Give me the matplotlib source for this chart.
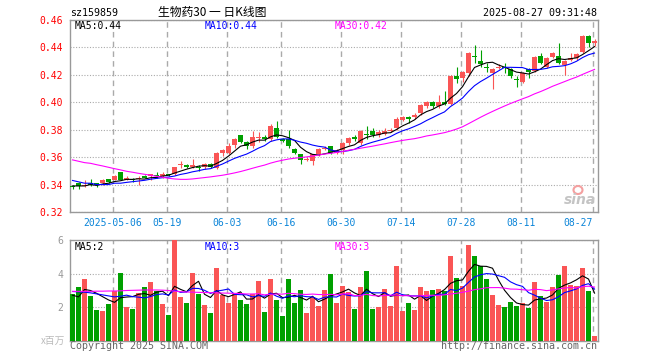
import numpy as np
import pandas as pd
import matplotlib
matplotlib.use('Agg')
import matplotlib.pyplot as plt
from matplotlib.patches import Ellipse

#=====================================
# sz159859 daily K-line
#=====================================

opens = [0.339, 0.341, 0.339, 0.341, 0.341, 0.341, 0.344, 0.343, 0.349, 0.343,
         0.344, 0.344, 0.346, 0.346, 0.347, 0.346, 0.348, 0.348, 0.354, 0.354,
         0.353, 0.353, 0.353, 0.355, 0.352, 0.363, 0.363, 0.369, 0.376, 0.371,
         0.368, 0.374, 0.375, 0.373, 0.381, 0.373, 0.373, 0.366, 0.362, 0.358,
         0.357, 0.362, 0.366, 0.368, 0.363, 0.365, 0.370, 0.375, 0.370, 0.377,
         0.379, 0.376, 0.377, 0.379, 0.381, 0.387, 0.389, 0.389, 0.392, 0.397,
         0.400, 0.397, 0.400, 0.399, 0.419, 0.418, 0.421, 0.434, 0.430, 0.426,
         0.421, 0.425, 0.426, 0.424, 0.417, 0.415, 0.424, 0.423, 0.434, 0.426,
         0.433, 0.434, 0.427, 0.431, 0.432, 0.437, 0.448, 0.443]
closes = [0.338, 0.339, 0.340, 0.340, 0.340, 0.343, 0.342, 0.346, 0.343, 0.345,
          0.343, 0.344, 0.345, 0.348, 0.346, 0.348, 0.347, 0.353, 0.355, 0.353,
          0.354, 0.352, 0.355, 0.353, 0.363, 0.365, 0.368, 0.373, 0.371, 0.368,
          0.375, 0.375, 0.373, 0.383, 0.375, 0.372, 0.368, 0.363, 0.358, 0.359,
          0.362, 0.366, 0.367, 0.363, 0.365, 0.370, 0.374, 0.373, 0.379, 0.376,
          0.376, 0.378, 0.379, 0.380, 0.388, 0.389, 0.388, 0.391, 0.398, 0.400,
          0.397, 0.400, 0.399, 0.419, 0.417, 0.422, 0.436, 0.433, 0.428, 0.425,
          0.424, 0.426, 0.425, 0.419, 0.416, 0.421, 0.422, 0.433, 0.429, 0.432,
          0.436, 0.429, 0.430, 0.432, 0.435, 0.448, 0.443, 0.445]
highs = [0.340, 0.342, 0.343, 0.344, 0.341, 0.344, 0.344, 0.347, 0.349, 0.346,
         0.345, 0.346, 0.347, 0.348, 0.349, 0.349, 0.348, 0.353, 0.357, 0.355,
         0.359, 0.354, 0.356, 0.356, 0.364, 0.366, 0.370, 0.374, 0.376, 0.372,
         0.379, 0.378, 0.376, 0.384, 0.386, 0.374, 0.380, 0.367, 0.362, 0.360,
         0.362, 0.367, 0.368, 0.368, 0.366, 0.371, 0.375, 0.376, 0.380, 0.383,
         0.381, 0.380, 0.381, 0.381, 0.389, 0.390, 0.390, 0.392, 0.399, 0.401,
         0.401, 0.405, 0.408, 0.420, 0.426, 0.423, 0.437, 0.442, 0.438, 0.429,
         0.425, 0.428, 0.429, 0.425, 0.419, 0.422, 0.425, 0.434, 0.436, 0.433,
         0.437, 0.443, 0.431, 0.436, 0.436, 0.449, 0.449, 0.446]
lows = [0.337, 0.337, 0.338, 0.339, 0.338, 0.340, 0.341, 0.343, 0.343, 0.343,
        0.342, 0.340, 0.345, 0.343, 0.345, 0.345, 0.346, 0.347, 0.352, 0.352,
        0.352, 0.350, 0.351, 0.352, 0.351, 0.361, 0.362, 0.367, 0.370, 0.366,
        0.367, 0.371, 0.372, 0.372, 0.374, 0.371, 0.367, 0.362, 0.355, 0.357,
        0.354, 0.361, 0.365, 0.362, 0.362, 0.362, 0.369, 0.372, 0.369, 0.373,
        0.375, 0.375, 0.376, 0.378, 0.380, 0.386, 0.385, 0.388, 0.391, 0.396,
        0.396, 0.396, 0.398, 0.398, 0.414, 0.415, 0.419, 0.429, 0.426, 0.422,
        0.410, 0.424, 0.421, 0.418, 0.411, 0.414, 0.418, 0.422, 0.428, 0.425,
        0.432, 0.428, 0.420, 0.430, 0.431, 0.436, 0.440, 0.441]
# volume, x 1e6
volumes = [2.78, 3.18, 3.70, 2.68, 1.84, 1.78, 2.20, 2.98, 4.06, 2.04,
           1.90, 2.88, 3.22, 3.52, 2.98, 2.20, 1.54, 6.00, 2.62, 2.26,
           4.06, 2.80, 2.14, 1.66, 4.36, 2.74, 2.26, 2.80, 2.44, 2.20,
           2.78, 3.58, 1.72, 3.66, 2.44, 1.50, 3.70, 2.26, 3.04, 1.66,
           2.62, 2.08, 3.04, 3.96, 2.26, 3.24, 2.90, 1.92, 3.18, 4.14,
           1.92, 2.04, 3.10, 2.10, 4.44, 1.78, 2.26, 1.84, 3.18, 2.98,
           3.04, 3.10, 2.98, 5.02, 3.76, 3.28, 5.68, 5.02, 4.48, 3.70,
           2.74, 2.14, 2.02, 2.32, 2.08, 2.26, 1.98, 3.52, 2.68, 2.32,
           3.18, 3.94, 4.48, 3.34, 3.24, 4.36, 2.98, 0.30]

# start of the MA lines (needs days before the window)
ma5_head = [0.339, 0.339, 0.339, 0.340]
ma10_head = [0.343, 0.342, 0.341, 0.341, 0.340, 0.340, 0.340, 0.341, 0.341]
ma30_head = [0.358, 0.357, 0.356, 0.3555, 0.3545, 0.3536, 0.3526, 0.3516, 0.3507,
             0.3497, 0.349, 0.3482, 0.3475, 0.3468, 0.346, 0.3453, 0.3446, 0.3441,
             0.3438, 0.3438, 0.3441, 0.3446, 0.3451, 0.3456, 0.3462, 0.3468,
             0.3476, 0.3485, 0.3495]
vma5_head = [2.72, 2.62, 3.06, 3.00]
vma10_head = [2.94, 2.92, 2.90, 2.86, 2.80, 2.74, 2.68, 2.62, 2.66]
vma30_head = [2.95, 2.95, 2.95, 2.95, 2.96, 2.96, 2.97, 2.97, 2.98, 3.00,
              3.01, 3.02, 3.03, 3.03, 3.03, 3.02, 3.00, 2.96, 2.93, 2.91,
              2.90, 2.89, 2.88, 2.87, 2.86, 2.85, 2.84, 2.83, 2.82]

tick_idx = [7, 16, 26, 35, 45, 55, 65, 75, 87]
tick_labels = ['2025-05-06', '05-19', '06-03', '06-16', '06-30',
               '07-14', '07-28', '08-11', '08-27']
price_ticks = [0.32, 0.34, 0.36, 0.38, 0.40, 0.42, 0.44, 0.46]
vol_ticks = [2, 4, 6]

# -------------------------
# helpers
# -------------------------
def moving_avg(vals, n, head):
    ma = pd.Series(vals, dtype=float).rolling(n).mean().to_numpy()
    ma[:n - 1] = head
    return ma

W, H = 660, 360
RED, GREEN = '#fa5555', '#00a000'
BLUE_TXT = '#0a84d8'
GRID = '#aaaaaa'
MONO = 'DejaVu Sans Mono'
CJK = ['Noto Sans CJK SC', 'DejaVu Sans']
LW = 0.8

idx = np.arange(len(closes))
o, c = np.array(opens), np.array(closes)
up = c >= o
cols = np.where(up, RED, GREEN)

fig = plt.figure(figsize=(W / 100, H / 100), dpi=100)
fig.patch.set_facecolor('white')

ax = fig.add_axes([70 / W, 1 - 212 / H, 528 / W, 192 / H])
axv = fig.add_axes([70 / W, 1 - 341 / H, 528 / W, 101 / H])

grid_x = [i - 0.3 for i in tick_idx]
for a in (ax, axv):
    a.set_xlim(-0.42, 87.58)
    for s in a.spines.values():
        s.set_color('#999999')
        s.set_linewidth(1)
    a.set_axisbelow(True)
    a.set_xticks(grid_x)
    a.grid(axis='x', color=GRID, linestyle=(0, (4, 3)), lw=1)
    a.grid(axis='y', color=GRID, linestyle=(0, (1, 1.5)), lw=0.8)
    a.tick_params(length=0)

# --- price panel
ax.set_ylim(0.32, 0.46)
ax.set_yticks(price_ticks)
ax.set_yticklabels(['%.2f' % v for v in price_ticks], color='red',
                   fontsize=7, family=MONO)
ax.tick_params(axis='y', pad=5)
ax.set_xticklabels(tick_labels, color=BLUE_TXT, fontsize=7, family=MONO)
ax.tick_params(axis='x', pad=4)
ax.get_xticklabels()[-1].set_ha('right')

ax.vlines(idx, lows, highs, colors=cols, lw=LW, zorder=2)
body = np.maximum(np.abs(c - o), 0.0006)
ax.bar(idx, body, bottom=np.minimum(o, c), width=0.78, color=cols,
       lw=0, zorder=3)

ax.plot(idx, moving_avg(closes, 5, ma5_head), color='black', lw=LW, zorder=4)
ax.plot(idx, moving_avg(closes, 10, ma10_head), color='blue', lw=LW, zorder=4)
ax.plot(idx, moving_avg(closes, 30, ma30_head), color='magenta', lw=LW, zorder=4)

# --- volume panel
axv.set_ylim(0, 6)
axv.set_yticks(vol_ticks)
axv.set_yticklabels([str(v) for v in vol_ticks], color='#999999',
                    fontsize=7, family=MONO)
axv.tick_params(axis='y', pad=5)
axv.set_xticklabels([])
axv.bar(idx, volumes, width=0.82, color=cols, lw=0, zorder=3)
axv.plot(idx, moving_avg(volumes, 5, vma5_head), color='black', lw=LW, zorder=4)
axv.plot(idx, moving_avg(volumes, 10, vma10_head), color='blue', lw=LW, zorder=4)
axv.plot(idx, moving_avg(volumes, 30, vma30_head), color='magenta', lw=LW, zorder=4)

# --- texts
def put(px, py, s, **kw):
    fig.text(px / W, 1 - py / H, s, va='center', **kw)

put(70, 13, 'sz159859', color='black', fontsize=7.2, family=MONO)
put(212, 12.5, '生物药30 一 日K线图', ha='center', color='black', fontsize=8.5,
    family=CJK)
put(597, 13, '2025-08-27 09:31:48', ha='right', color='black', fontsize=7.2,
    family=MONO)

put(75, 26, 'MA5:0.44', color='black', fontsize=7, family=MONO)
put(205, 26, 'MA10:0.44', color='blue', fontsize=7, family=MONO)
put(335, 26, 'MA30:0.42', color='magenta', fontsize=7, family=MONO)

put(75, 246.5, 'MA5:2', color='black', fontsize=7, family=MONO)
put(205, 246.5, 'MA10:3', color='blue', fontsize=7, family=MONO)
put(335, 246.5, 'MA30:3', color='magenta', fontsize=7, family=MONO)

put(65, 341, 'x百万', ha='right', color='#bbbbbb', fontsize=7, family=CJK)
put(70, 346, 'Copyright 2025 SINA.COM', color='#666666', fontsize=7.2, family=MONO)
put(597, 346, 'http://finance.sina.com.cn', ha='right', color='#666666',
    fontsize=7.2, family=MONO)

# sina watermark
put(580, 200, 'sina', ha='center', color='#c4c4c4', fontsize=10,
    style='italic', weight='bold')
fig.patches.append(Ellipse((578 / W, 1 - 190 / H), 9 / W, 8 / H,
                           transform=fig.transFigure, fill=False,
                           edgecolor='#f4a0a0', lw=1.5))

fig.savefig('out.png', dpi=100)
